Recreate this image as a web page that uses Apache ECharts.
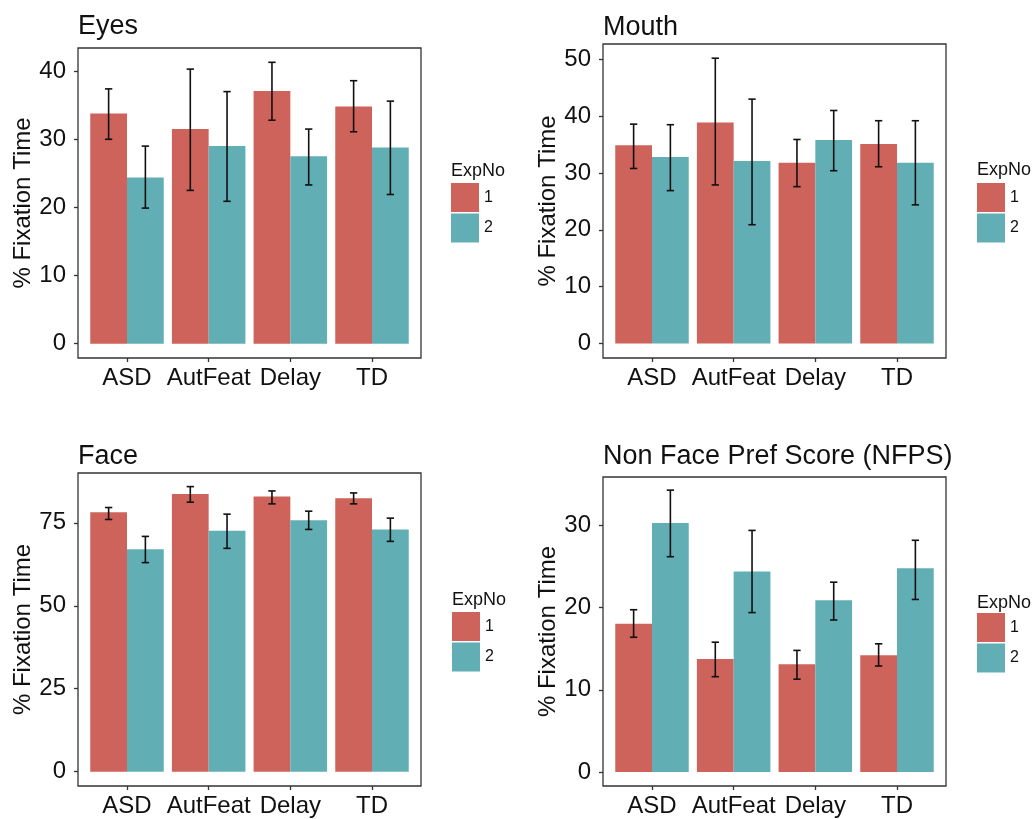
<!DOCTYPE html>
<html>
<head>
<meta charset="utf-8">
<script src="https://cdn.jsdelivr.net/npm/echarts@6/dist/echarts.min.js"></script>
<style>
  html, body { margin: 0; padding: 0; background: #fff; }
  #chart { width: 1033px; height: 819px; }
</style>
</head>
<body>
<div id="chart"></div>
<script>
// groups on the x axis
var categories = ["ASD", "AutFeat", "Delay", "TD"];
var expNames = ["1", "2"];

// Eyes
var eyesExp1 = [33.8, 31.5, 37.1, 34.8];
var eyesExp2 = [24.4, 29.0, 27.5, 28.8];
var eyesErr1 = [[30.0, 37.4], [22.5, 40.3], [32.8, 41.3], [31.1, 38.6]];
var eyesErr2 = [[19.9, 29.0], [20.9, 37.0], [23.3, 31.5], [21.9, 35.6]];
var eyesTicks = [0, 10, 20, 30, 40];

// Mouth
var mouthExp1 = [34.9, 38.9, 31.8, 35.1];
var mouthExp2 = [32.8, 32.1, 35.8, 31.8];
var mouthErr1 = [[30.8, 38.6], [27.9, 50.2], [27.6, 35.9], [31.1, 39.2]];
var mouthErr2 = [[26.9, 38.5], [20.9, 43.0], [30.4, 41.0], [24.4, 39.2]];
var mouthTicks = [0, 10, 20, 30, 40, 50];

// Face
var faceExp1 = [78.2, 83.7, 82.9, 82.4];
var faceExp2 = [67.0, 72.6, 75.8, 73.0];
var faceErr1 = [[76.0, 79.6], [81.2, 85.9], [80.7, 84.6], [80.7, 84.0]];
var faceErr2 = [[63.0, 70.9], [67.3, 77.6], [73.0, 78.5], [69.4, 76.4]];
var faceTicks = [0, 25, 50, 75];

// Non Face Pref Score
var nfpsExp1 = [18.05, 13.75, 13.1, 14.2];
var nfpsExp2 = [30.3, 24.4, 20.9, 24.8];
var nfpsErr1 = [[16.4, 19.75], [11.6, 15.8], [11.3, 14.8], [12.9, 15.6]];
var nfpsErr2 = [[26.2, 34.3], [19.4, 29.4], [18.5, 23.1], [21.0, 28.2]];
var nfpsTicks = [0, 10, 20, 30];

var RED = "#CD635B";
var TEAL = "#62AEB5";
var FONT = "Liberation Sans, Arial, sans-serif";

var panels = [
  { title: "Eyes", left: 78, top: 48, width: 343, height: 310, min: -2.1, max: 43.4,
    m1: eyesExp1, m2: eyesExp2, e1: eyesErr1, e2: eyesErr2, ticks: eyesTicks,
    titleTop: 13, legTitleTop: 162, legTop: 183, legLeft: 451 },
  { title: "Mouth", left: 603, top: 44, width: 343, height: 314, min: -2.55, max: 52.7,
    m1: mouthExp1, m2: mouthExp2, e1: mouthErr1, e2: mouthErr2, ticks: mouthTicks,
    titleTop: 14, legTitleTop: 161, legTop: 183, legLeft: 977 },
  { title: "Face", left: 78, top: 473, width: 343, height: 313, min: -4.3, max: 90,
    m1: faceExp1, m2: faceExp2, e1: faceErr1, e2: faceErr2, ticks: faceTicks,
    titleTop: 443, legTitleTop: 591, legTop: 612, legLeft: 452 },
  { title: "Non Face Pref Score (NFPS)", left: 603, top: 477, width: 343, height: 309, min: -1.7, max: 35.9,
    m1: nfpsExp1, m2: nfpsExp2, e1: nfpsErr1, e2: nfpsErr2, ticks: nfpsTicks,
    titleTop: 443, legTitleTop: 594, legTop: 613, legLeft: 977 }
];

// dodged bar + error bar, positioned through the axis scales
function makeRender(offset) {
  return function (params, api) {
    var x = api.value(0), v = api.value(1), lo = api.value(2), hi = api.value(3);
    var x0 = x + offset, x1 = x0 + 0.45, cx = x0 + 0.225;
    var a = api.coord([x0, v]);
    var b = api.coord([x1, 0]);
    var top = api.coord([cx, hi]);
    var bot = api.coord([cx, lo]);
    var cl = api.coord([cx - 0.045, hi])[0];
    var cr = api.coord([cx + 0.045, hi])[0];
    var lineStyle = { stroke: "#111", lineWidth: 1.6 };
    return {
      type: "group",
      children: [
        { type: "rect", shape: { x: a[0], y: a[1], width: b[0] - a[0], height: b[1] - a[1] },
          style: { fill: api.visual("color") } },
        { type: "line", shape: { x1: top[0], y1: top[1], x2: bot[0], y2: bot[1] }, style: lineStyle },
        { type: "line", shape: { x1: cl, y1: top[1], x2: cr, y2: top[1] }, style: lineStyle },
        { type: "line", shape: { x1: cl, y1: bot[1], x2: cr, y2: bot[1] }, style: lineStyle }
      ]
    };
  };
}

function rows(means, errs) {
  return means.map(function (m, i) { return [i + 1, m, errs[i][0], errs[i][1]]; });
}

var titles = [], grids = [], xAxes = [], yAxes = [], legends = [], series = [];

panels.forEach(function (p, k) {
  titles.push({ text: p.title, left: p.left, top: p.titleTop, padding: 0,
    textStyle: { fontFamily: FONT, fontSize: 27, fontWeight: "normal", color: "#111" } });
  titles.push({ text: "ExpNo", left: p.legLeft, top: p.legTitleTop, padding: 0,
    textStyle: { fontFamily: FONT, fontSize: 18, fontWeight: "normal", color: "#111" } });

  grids.push({ left: p.left, top: p.top, width: p.width, height: p.height,
    show: true, borderColor: "#333", borderWidth: 1.3, backgroundColor: "#fff" });

  xAxes.push({
    type: "value", gridIndex: k, min: 0.4, max: 4.6,
    axisLine: { show: false, onZero: false },
    splitLine: { show: false },
    axisTick: { show: true, length: 4, customValues: [1, 2, 3, 4], lineStyle: { color: "#333", width: 1.3 } },
    axisLabel: { customValues: [1, 2, 3, 4], margin: 8, fontFamily: FONT, fontSize: 24, color: "#111",
      formatter: function (v) { return categories[Math.round(v) - 1] || ""; } }
  });

  yAxes.push({
    type: "value", gridIndex: k, min: p.min, max: p.max,
    name: "% Fixation Time", nameLocation: "middle", nameGap: 40,
    nameTextStyle: { fontFamily: FONT, fontSize: 24, color: "#111" },
    axisLine: { show: false, onZero: false },
    splitLine: { show: false },
    axisTick: { show: true, length: 4, customValues: p.ticks, lineStyle: { color: "#333", width: 1.3 } },
    axisLabel: { customValues: p.ticks, margin: 12, fontFamily: FONT, fontSize: 24, color: "#111" }
  });

  legends.push({
    data: expNames, orient: "vertical", left: p.legLeft, top: p.legTop, padding: 0,
    icon: "rect", itemWidth: 28, itemHeight: 29, itemGap: 1.5, selectedMode: false,
    textStyle: { fontFamily: FONT, fontSize: 16, color: "#111" }
  });

  series.push({
    name: expNames[0], type: "custom", xAxisIndex: k, yAxisIndex: k,
    itemStyle: { color: RED }, renderItem: makeRender(-0.45),
    encode: { x: 0, y: 1 }, data: rows(p.m1, p.e1)
  });
  series.push({
    name: expNames[1], type: "custom", xAxisIndex: k, yAxisIndex: k,
    itemStyle: { color: TEAL }, renderItem: makeRender(0),
    encode: { x: 0, y: 1 }, data: rows(p.m2, p.e2)
  });
});

var chart = echarts.init(document.getElementById("chart"));
chart.setOption({
  backgroundColor: "#fff",
  animation: false,
  title: titles,
  grid: grids,
  xAxis: xAxes,
  yAxis: yAxes,
  legend: legends,
  series: series
});
</script>
</body>
</html>
